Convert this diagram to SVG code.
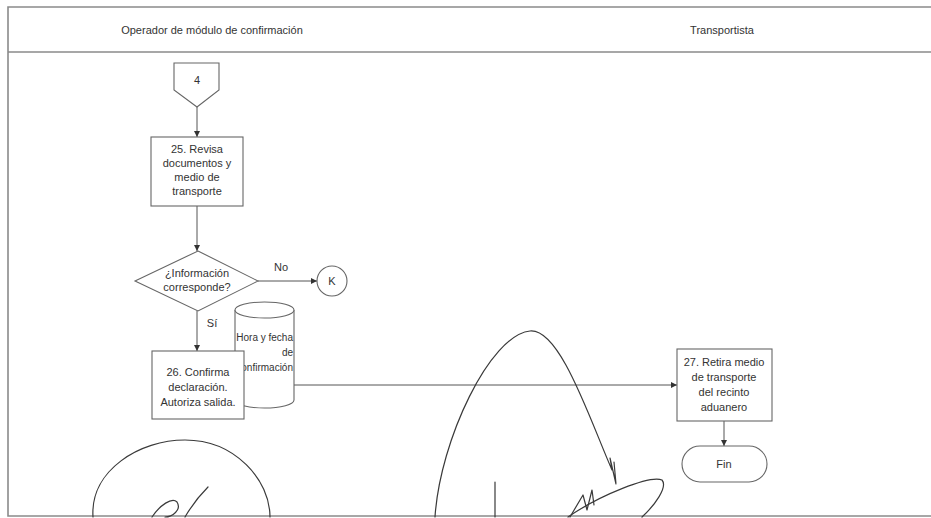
<svg xmlns="http://www.w3.org/2000/svg" width="931" height="518" viewBox="0 0 931 518">
  <defs>
    <marker id="arrow" viewBox="0 0 10 10" refX="10" refY="5" markerWidth="6" markerHeight="6" orient="auto" markerUnits="userSpaceOnUse">
      <path d="M0,0 L10,5 L0,10 z" fill="#333"/>
    </marker>
    <style>
      .frame { fill: none; stroke: #8a8a8a; stroke-width: 1.6; }
      .shape { fill: #fff; stroke: #666; stroke-width: 1.1; }
      .conn { fill: none; stroke: #555; stroke-width: 1; marker-end: url(#arrow); }
      .lbl { font-family: "Liberation Sans", Arial, sans-serif; font-size: 11px; fill: #333; text-anchor: middle; }
      .store { font-family: "Liberation Sans", Arial, sans-serif; font-size: 10px; fill: #333; text-anchor: end; }
      .hdr { font-family: "Liberation Sans", Arial, sans-serif; font-size: 11px; fill: #333; text-anchor: middle; }
      .sig { fill: none; stroke: #3a3a3a; stroke-width: 1.2; stroke-linecap: round; stroke-linejoin: round; }
    </style>
  </defs>

  <rect width="931" height="518" fill="#fff"/>

  <!-- swimlane frame and header -->
  <g id="lanes">
    <path class="frame" d="M935,7 H8 V516 H935"/>
    <line class="frame" x1="8" y1="52" x2="935" y2="52"/>
    <text class="hdr" x="212" y="34">Operador de módulo de confirmación</text>
    <text class="hdr" x="722" y="34">Transportista</text>
  </g>

  <!-- connectors -->
  <g id="connectors">
    <line class="conn" x1="197" y1="107" x2="197" y2="137"/>
    <line class="conn" x1="197" y1="206" x2="197" y2="251"/>
    <line class="conn" x1="258" y1="281" x2="317" y2="281"/>
    <line class="conn" x1="197" y1="311" x2="197" y2="351"/>
    <line class="conn" x1="244" y1="385" x2="677" y2="385"/>
    <line class="conn" x1="724" y1="421" x2="724" y2="446"/>
    <text class="lbl" x="281" y="271">No</text>
    <text class="lbl" x="212" y="327">Sí</text>
  </g>

  <!-- off-page connector 4 -->
  <g id="offpage-4">
    <path class="shape" d="M174,63 H219 V90 L197,107 L174,90 Z"/>
    <text class="lbl" x="197" y="84">4</text>
  </g>

  <!-- step 25 -->
  <g id="step-25">
    <rect class="shape" x="151" y="137" width="92" height="69"/>
    <text class="lbl" x="197" y="153">25. Revisa</text>
    <text class="lbl" x="197" y="167">documentos y</text>
    <text class="lbl" x="197" y="181">medio de</text>
    <text class="lbl" x="197" y="195">transporte</text>
  </g>

  <!-- decision -->
  <g id="decision">
    <path class="shape" d="M198,251 L258,281 L198,311 L135,281 Z"/>
    <text class="lbl" x="197" y="277">¿Información</text>
    <text class="lbl" x="197" y="291">corresponde?</text>
  </g>

  <!-- connector K -->
  <g id="connector-k">
    <circle class="shape" cx="332" cy="281" r="15"/>
    <text class="lbl" x="332" y="285">K</text>
  </g>

  <!-- data store -->
  <g id="datastore">
    <path class="shape" d="M235,310 A29.5,8 0 0 1 294,310 V400 A29.5,8 0 0 1 235,400 Z"/>
    <path class="shape" d="M235,310 A29.5,8 0 0 0 294,310" fill="none"/>
    <text class="store" x="293" y="341">Hora y fecha</text>
    <text class="store" x="293" y="356">de</text>
    <text class="store" x="293" y="371">confirmación</text>
  </g>

  <!-- step 26 -->
  <g id="step-26">
    <rect class="shape" x="152" y="351" width="92" height="68"/>
    <text class="lbl" x="198" y="376">26. Confirma</text>
    <text class="lbl" x="198" y="391">declaración.</text>
    <text class="lbl" x="198" y="406">Autoriza salida.</text>
  </g>

  <!-- step 27 -->
  <g id="step-27">
    <rect class="shape" x="677" y="349" width="95" height="72"/>
    <text class="lbl" x="724" y="366">27. Retira medio</text>
    <text class="lbl" x="724" y="381">de transporte</text>
    <text class="lbl" x="724" y="396">del recinto</text>
    <text class="lbl" x="724" y="411">aduanero</text>
  </g>

  <!-- end terminator -->
  <g id="end">
    <rect class="shape" x="682" y="446" width="85" height="36" rx="18" ry="18"/>
    <text class="lbl" x="724" y="468">Fin</text>
  </g>

  <!-- handwritten signatures -->
  <g id="signatures">
    <path class="sig" d="M93,517 C90,470 140,440 185,440 C235,440 270,480 270,517"/>
    <path class="sig" d="M152,517 C160,505 172,497 177,502 C182,510 172,517 165,517"/>
    <path class="sig" d="M185,517 C192,505 200,495 208,487"/>
    <path class="sig" d="M435,517 C440,440 490,335 530,331 C560,328 590,420 612,470 L610,458 L616,484 L614,462"/>
    <path class="sig" d="M495,482 V517"/>
    <path class="sig" d="M570,517 L583,495 L587,510 L592,490 L594,505"/>
    <path class="sig" d="M568,517 C600,495 650,475 662,480 C668,487 655,505 642,517"/>
  </g>
</svg>
